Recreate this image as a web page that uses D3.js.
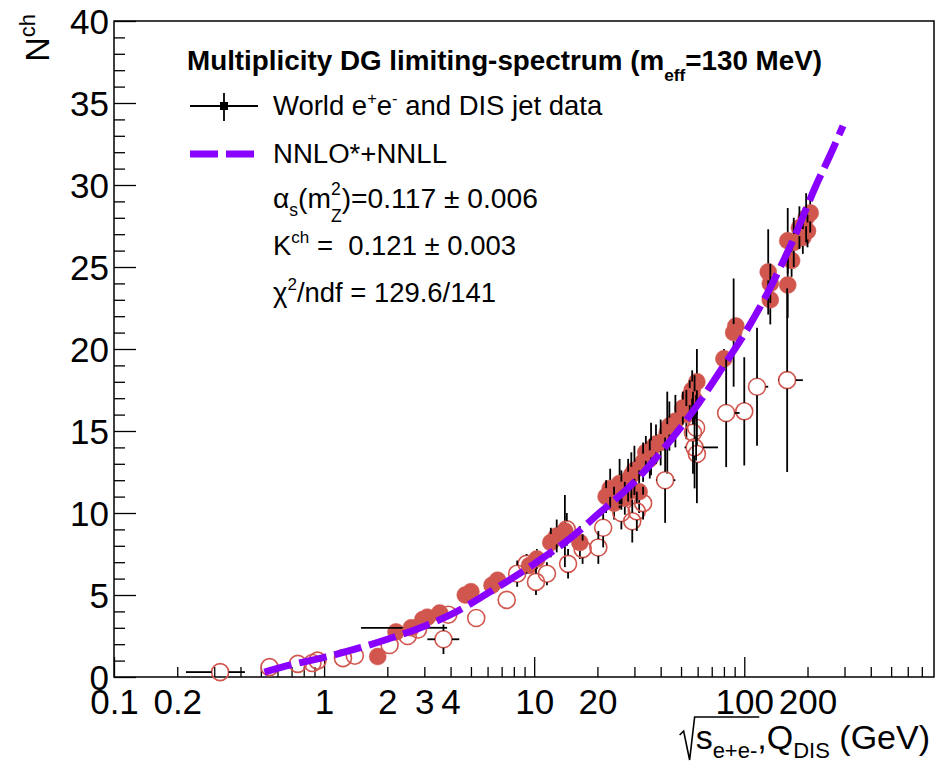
<!DOCTYPE html>
<html><head><meta charset="utf-8">
<script src="https://cdn.jsdelivr.net/npm/d3@7"></script>
<style>
html,body{margin:0;padding:0;background:#fff;}
svg{display:block;font-family:"Liberation Sans",Arial,Helvetica,sans-serif;}
</style></head>
<body><svg id="c" width="935" height="763"></svg>
<script>
// ---------------- data ----------------
// e+e- data (filled markers): sqrt(s) [GeV], N_ch, error, optional x-range low/high
const eeX   = [1.8,2.2,2.6,2.95,3.1,3.55,4.7,5.0,6.3,6.7,9.5,10.3,12.0,12.8,14.0,16.5,22.0,23.0,24.0,25.5,26.0,27.0,28.0,29.0,30.0,31.6,33.0,34.0,35.5,36.0,38,40,43.0,44.0,47,51.0,53.0,55.0,56.5,58.0,59.5,80.0,89.0,91.2,130,133,133,161,161,168,172,183,190,197,200,206];
const eeY   = [1.25,2.75,3.0,3.5,3.65,3.9,5.0,5.2,5.6,5.9,6.8,7.2,8.2,8.6,8.9,8.2,11.0,11.5,10.6,11.8,11.4,10.9,12.0,12.3,12.6,11.3,13.1,13.7,13.3,13.9,14.2,14.3,14.9,15.3,15.6,16.4,16.0,17.1,17.5,16.9,18.0,19.4,21.0,21.4,24.7,24.0,23.0,26.6,23.9,25.4,26.5,27.4,26.8,28.0,27.2,28.3];
const eeErr = [0.35,0.3,0.25,0.2,0.3,0.3,0.4,0.3,0.4,0.3,0.5,0.6,0.9,1.0,2.2,1.0,1.0,1.2,1.0,1.5,1.2,1.0,1.3,1.4,1.5,1.3,1.2,1.0,1.2,1.6,1.2,1.4,2.5,1.5,1.6,1.0,1.5,1.0,1.2,1.5,2.0,0.6,3.3,0.3,2.6,1.2,1.5,2.0,2.0,1.0,1.5,1.3,1.0,1.5,1.0,1.2];
const eeXlo = {2: 1.5};
const eeXhi = {2: 3.85};
// DIS data (open markers): Q [GeV], N_ch, error, optional x-range
const disX   = [0.32,0.55,0.75,0.88,0.93,1.23,1.40,2.05,2.5,2.8,3.7,3.9,5.3,7.4,8.3,9.2,10.2,11.5,14.3,14.5,17,20.2,21.3,26,29.3,30.8,33,42,57,58,59,59.5,82,100,115,160];
const disY   = [0.3,0.6,0.8,0.85,1.0,1.15,1.3,1.95,2.5,2.9,2.3,3.8,3.6,4.7,6.3,6.9,5.8,6.3,9.0,6.9,7.8,7.9,9.1,10.0,9.5,10.1,10.6,12.0,14.9,14.0,15.2,13.6,16.1,16.2,17.7,18.1];
const disErr = [0.05,0.05,0.05,0.1,0.1,0.1,0.1,0.15,0.2,0.2,0.9,0.3,0.5,0.5,0.8,0.6,0.8,0.7,1.0,0.9,0.9,1.0,1.2,1.0,1.3,1.2,1.0,2.6,2.5,2.5,2.0,3.0,3.3,3.3,3.6,5.6];
const disXlo = {0: 0.22, 10: 3.1, 27: 38, 29: 52, 32: 75, 34: 105, 35: 145};
const disXhi = {0: 0.42, 10: 4.4, 27: 47, 29: 75, 32: 95, 34: 130, 35: 190};
// NNLO*+NNLL curve
const fitX = [0.52,0.7,1.0,1.5,2.0,3.0,4.0,6.0,10,15,20,30,45,60,80,100,130,170,220,260,295];
const fitY = [0.3,0.75,1.2,1.8,2.3,3.1,3.8,5.1,6.9,8.5,9.9,11.9,14.5,16.6,19.0,20.9,23.5,26.6,30.0,32.0,33.6];
// axis ticks
const xMinorTicks = [0.2,0.3,0.4,0.5,0.6,0.7,0.8,0.9,2,3,4,5,6,7,8,9,20,30,40,50,60,70,80,90,200,300,400,500,600,700];
const xMajorTicks = [0.1,1,10,100];
const xTickLabels = {0.1:"0.1",0.2:"0.2",1:"1",2:"2",3:"3",4:"4",10:"10",20:"20",100:"100",200:"200"};
const yTicks = d3.range(0, 41, 1);
const yLabelTicks = [0,5,10,15,20,25,30,35,40];

// ---------------- layout ----------------
const svg = d3.select("#c");
const L = 114, R = 934, T = 21, B = 677;
const x = d3.scaleLog().domain([0.1, 800]).range([L, R]);
const y = d3.scaleLinear().domain([0, 40]).range([B, T]);
const RED = "#d0564e", PURPLE = "#8a00ff";

// frame
svg.append("rect").attr("x", L).attr("y", T).attr("width", R - L).attr("height", B - T)
  .attr("fill", "none").attr("stroke", "#000").attr("stroke-width", 1.5);

// x axis (ticks inward)
const gx = svg.append("g").attr("transform", `translate(0,${B})`);
const xAxis = d3.axisBottom(x).tickValues(xMajorTicks.concat(xMinorTicks))
  .tickSize(0).tickFormat(d => xTickLabels[d] || "");
gx.call(xAxis);
gx.select(".domain").remove();
gx.selectAll(".tick line").attr("y2", d => xMajorTicks.includes(d) ? -20 : -10)
  .attr("stroke", "#000").attr("stroke-width", 1.3);
gx.selectAll(".tick text").attr("y", 37).attr("dy", 0)
  .style("font-size", "35px").attr("fill", "#000").attr("font-family", null);

// y axis
const gy = svg.append("g").attr("transform", `translate(${L},0)`);
const yAxis = d3.axisLeft(y).tickValues(yTicks).tickSize(0)
  .tickFormat(d => yLabelTicks.includes(d) ? String(d) : "");
gy.call(yAxis);
gy.select(".domain").remove();
gy.selectAll(".tick line").attr("x2", d => d % 5 === 0 ? 22 : 11)
  .attr("stroke", "#000").attr("stroke-width", 1.3);
gy.selectAll(".tick text").attr("x", -5).attr("dy", "0.36em")
  .style("font-size", "35px").attr("fill", "#000").attr("font-family", null);

// ---------------- rich text helper ----------------
function rich(parent, px, py, pieces, size, weight) {
  const t = parent.append("text").attr("x", px).attr("y", py)
    .style("font-size", size + "px").style("font-weight", weight || "normal")
    .style("white-space", "pre").attr("fill", "#000");
  let cur = 0;
  pieces.forEach(p => {
    const s = p.s || 1, shift = (p.dy || 0) * size;
    const ts = t.append("tspan").text(p.t).style("font-size", (size * s) + "px")
      .attr("dy", shift - cur);
    if (p.back) {
      const tmp = parent.append("text").style("font-size", (size * s) + "px")
        .style("font-weight", weight || "normal").text(p.back);
      ts.attr("dx", -tmp.node().getComputedTextLength());
      tmp.remove();
    }
    cur = shift;
  });
  return t;
}
function fitRich(parent, px, py, pieces, size, weight, width) {
  let t = rich(parent, px, py, pieces, size, weight);
  const w = t.node().getBBox().width;
  t.remove();
  return rich(parent, px, py, pieces, size * width / w, weight);
}

// ---------------- data layers ----------------
const R0 = 8.5;
function drawSeries(X, Y, E, XLO, XHI, filled) {
  const g = svg.append("g");
  const idx = d3.range(X.length);
  g.selectAll("circle").data(idx).join("circle")
    .attr("cx", i => x(X[i])).attr("cy", i => y(Y[i])).attr("r", R0)
    .attr("fill", filled ? RED : "none").attr("stroke", RED)
    .attr("stroke-width", filled ? 0.5 : 1.6);
  const ge = svg.append("g").attr("stroke", "#000").attr("stroke-width", 1.8);
  idx.forEach(i => {
    const cx = x(X[i]), cy = y(Y[i]);
    const up = y(Y[i] + E[i]), dn = y(Y[i] - E[i]);
    if (cy - up > R0) ge.append("line").attr("x1", cx).attr("x2", cx).attr("y1", cy - R0).attr("y2", up);
    if (dn - cy > R0) ge.append("line").attr("x1", cx).attr("x2", cx).attr("y1", cy + R0).attr("y2", dn);
    if (XLO[i] !== undefined) {
      const xl = x(XLO[i]), xh = x(XHI[i]);
      if (cx - xl > R0) ge.append("line").attr("x1", xl).attr("x2", cx - R0).attr("y1", cy).attr("y2", cy);
      if (xh - cx > R0) ge.append("line").attr("x1", cx + R0).attr("x2", xh).attr("y1", cy).attr("y2", cy);
    }
  });
}
drawSeries(eeX, eeY, eeErr, eeXlo, eeXhi, true);
drawSeries(disX, disY, disErr, disXlo, disXhi, false);

// curve
const line = d3.line().x(d => x(d[0])).y(d => y(d[1])).curve(d3.curveMonotoneX);
svg.append("path").datum(fitX.map((v, i) => [v, fitY[i]])).attr("d", line)
  .attr("fill", "none").attr("stroke", PURPLE).attr("stroke-width", 7)
  .attr("stroke-dasharray", "28,8");

// ---------------- legend ----------------
const lg = svg.append("g");
fitRich(lg, 187, 70, [{t: "Multiplicity DG limiting-spectrum (m"}, {t: "eff", s: 0.62, dy: 0.38}, {t: "=130 MeV)", dy: 0}], 27.8, "bold", 635);
// marker
lg.append("line").attr("x1", 190).attr("x2", 258).attr("y1", 106).attr("y2", 106).attr("stroke", "#000").attr("stroke-width", 1.8);
lg.append("line").attr("x1", 224).attr("x2", 224).attr("y1", 93).attr("y2", 121).attr("stroke", "#000").attr("stroke-width", 1.8);
lg.append("rect").attr("x", 220).attr("y", 102).attr("width", 8).attr("height", 8).attr("fill", "#000");
fitRich(lg, 273, 115, [{t: "World e"}, {t: "+", s: 0.6, dy: -0.4}, {t: "e", dy: 0}, {t: "-", s: 0.6, dy: -0.4}, {t: " and DIS jet data", dy: 0}], 27.5, "normal", 330);
lg.append("line").attr("x1", 190).attr("x2", 254).attr("y1", 154).attr("y2", 154)
  .attr("stroke", PURPLE).attr("stroke-width", 7).attr("stroke-dasharray", "28,8");
fitRich(lg, 273, 163, [{t: "NNLO*+NNLL"}], 27.5, "normal", 174);
fitRich(lg, 273, 208, [{t: "α"}, {t: "s", s: 0.62, dy: 0.3}, {t: "(m", dy: 0}, {t: "2", s: 0.62, dy: -0.45}, {t: "Z", s: 0.62, dy: 0.5, back: "2"}, {t: ")=0.117 ± 0.006", dy: 0}], 27.5, "normal", 265);
fitRich(lg, 273, 255, [{t: "K"}, {t: "ch", s: 0.62, dy: -0.45}, {t: " =\u00a0 0.121 ± 0.003", dy: 0}], 27.5, "normal", 243);
fitRich(lg, 273, 302, [{t: "χ"}, {t: "2", s: 0.62, dy: -0.45}, {t: "/ndf = 129.6/141", dy: 0}], 27.5, "normal", 223);

// ---------------- axis titles ----------------
const yt = svg.append("text").attr("transform", "translate(49,14) rotate(-90)")
  .attr("text-anchor", "end").style("font-size", "34px").attr("fill", "#000");
yt.append("tspan").text("N");
yt.append("tspan").text("ch").style("font-size", "22px").attr("dy", -14);

const xt = svg.append("text").attr("x", 930).attr("y", 749).attr("text-anchor", "end")
  .style("font-size", "34px").attr("fill", "#000");
const tsS = xt.append("tspan").text("s");
const tsSub = xt.append("tspan").text("e+e-").style("font-size", "22px").attr("dy", 9);
xt.append("tspan").text(",Q").attr("dy", -9);
xt.append("tspan").text("DIS").style("font-size", "22px").attr("dy", 9);
xt.append("tspan").text(" (GeV)").attr("dy", -9);
const xtBox = xt.node().getBBox();
const sStart = xtBox.x;
const subEnd = sStart + tsS.node().getComputedTextLength() + tsSub.node().getComputedTextLength() + 2;
svg.append("path")
  .attr("d", `M${sStart - 16},${735} L${sStart - 12},${731} L${sStart - 6},${760} L${sStart - 1},${717} L${subEnd},${717}`)
  .attr("fill", "none").attr("stroke", "#000").attr("stroke-width", 1.6);
</script>
</body></html>
